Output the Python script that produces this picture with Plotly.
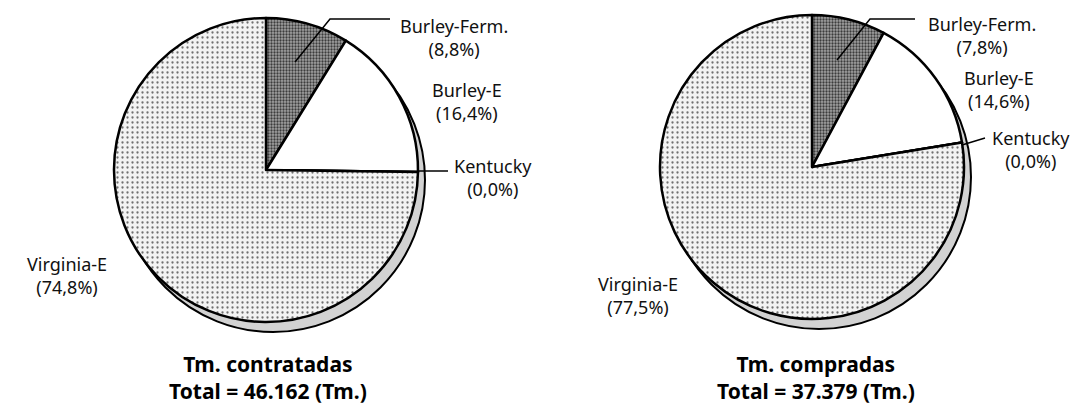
import plotly.graph_objects as go

# ---------------- data ----------------
categories = ["Burley-Ferm.", "Burley-E", "Kentucky", "Virginia-E"]
contratadas_pct = [8.8, 16.4, 0.0, 74.8]
compradas_pct = [7.8, 14.6, 0.0, 77.5]
chart_titles = ["Tm. contratadas", "Tm. compradas"]
totals_tm = ["46.162", "37.379"]

# ---------------- layout helpers ----------------
W, H = 1073, 407


def px(x):
    return x / W


def py(y):
    return 1 - y / H


def fmt(v):
    return f"({v:.1f}%)".replace(".", ",")


# pie geometry in pixels: centre x, centre y, radius
pies = [
    dict(cx=266, cy=170, r=152),
    dict(cx=812, cy=167, r=152),
]

slice_bg = ["#a2a2a2", "#ffffff", "#ffffff", "#f3f3f3"]
slice_fg = ["#3c3c3c", "#ffffff", "#ffffff", "#707070"]
slice_sol = [0.45, 0.0, 0.0, 0.16]
slice_size = [3, 4, 4, 5]

fig = go.Figure()

series = [contratadas_pct, compradas_pct]
for g, vals in zip(pies, series):
    fig.add_trace(go.Pie(
        labels=categories,
        values=vals,
        sort=False,
        direction="clockwise",
        rotation=0,
        textinfo="none",
        hoverinfo="label+percent",
        showlegend=False,
        domain=dict(x=[px(g["cx"] - g["r"]), px(g["cx"] + g["r"])],
                    y=[py(g["cy"] + g["r"]), py(g["cy"] - g["r"])]),
        marker=dict(
            colors=slice_bg,
            line=dict(color="#000000", width=2.5),
            pattern=dict(shape=".", bgcolor=slice_bg, fgcolor=slice_fg,
                         solidity=slice_sol, size=slice_size, fillmode="replace"),
        ),
    ))

shapes = []
# shadow crescents (below pies)
for g in pies:
    dx, dy = 7, 10
    shapes.append(dict(
        type="circle", xref="paper", yref="paper", layer="below",
        x0=px(g["cx"] - g["r"] + dx), x1=px(g["cx"] + g["r"] + dx),
        y0=py(g["cy"] + g["r"] + dy), y1=py(g["cy"] - g["r"] + dy),
        fillcolor="#d2d2d2", line=dict(color="#000000", width=2),
    ))

# leader lines (pixel paths)
leaders = [
    [(295, 62), (330, 19), (390, 19)],
    [(418, 171), (448, 171)],
    [(837, 60), (870, 19), (915, 19)],
    [(962, 145), (985, 138)],
]
for pts in leaders:
    path = "M " + " L ".join(f"{px(x)},{py(y)}" for x, y in pts)
    shapes.append(dict(type="path", xref="paper", yref="paper", path=path,
                       line=dict(color="#000000", width=1.5)))

# label positions (pixel centre x, centre y of the two-line block)
label_pos = [
    {"Burley-Ferm.": (454, 37), "Burley-E": (467, 101),
     "Kentucky": (493, 177), "Virginia-E": (67, 275)},
    {"Burley-Ferm.": (982, 36), "Burley-E": (999, 90),
     "Kentucky": (1031, 149), "Virginia-E": (638, 295)},
]

FONT = "Noto Sans"
annotations = []
for vals, pos in zip(series, label_pos):
    for cat, v in zip(categories, vals):
        x, y = pos[cat]
        annotations.append(dict(
            text=f"{cat}<br>{fmt(v)}", x=px(x), y=py(y),
            xref="paper", yref="paper",
            xanchor="center", yanchor="middle", showarrow=False, align="center",
            font=dict(family=FONT, size=18, color="#111111"),
        ))

title_pos = [(268, 377), (816, 377)]
for t, tot, (x, y) in zip(chart_titles, totals_tm, title_pos):
    annotations.append(dict(
        text=f"<b>{t}</b><br><b>Total = {tot} (Tm.)</b>", x=px(x), y=py(y),
        xref="paper", yref="paper",
        xanchor="center", yanchor="middle", showarrow=False, align="center",
        font=dict(family=FONT, size=21, color="#000000"),
    ))

fig.update_layout(
    width=W, height=H,
    margin=dict(l=0, r=0, t=0, b=0),
    paper_bgcolor="#ffffff", plot_bgcolor="#ffffff",
    shapes=shapes, annotations=annotations,
)

fig.write_html(
    "out.html",
    config={"displayModeBar": False},
    post_script="document.body.style.margin='0';document.body.style.overflow='hidden';",
)
